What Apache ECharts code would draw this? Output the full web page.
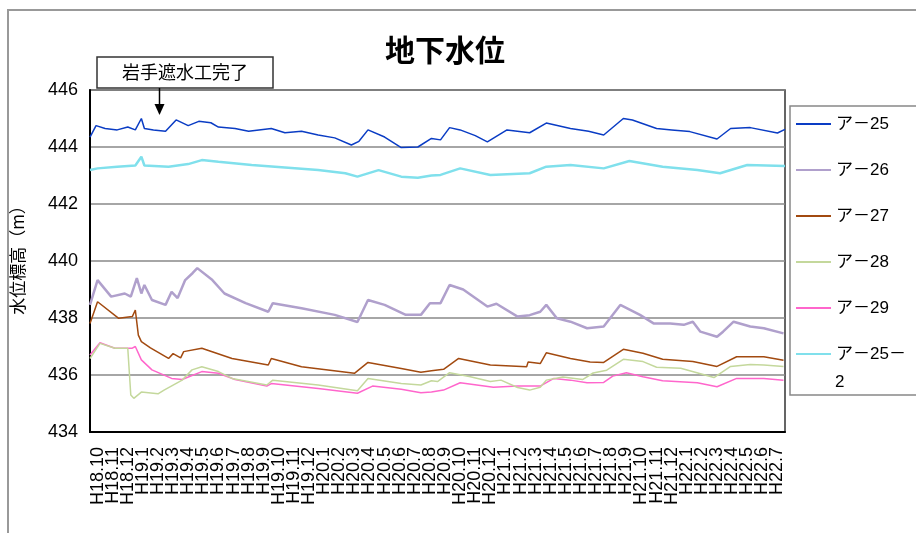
<!DOCTYPE html>
<html><head><meta charset="utf-8">
<script src="https://cdn.jsdelivr.net/npm/echarts@6/dist/echarts.min.js"></script>
<style>html,body{margin:0;padding:0;background:#fff}#c{width:916px;height:533px}</style>
</head><body><div id="c"></div>
<script>
const categories = ['H18.10','H18.11','H18.12',
 'H19.1','H19.2','H19.3','H19.4','H19.5','H19.6','H19.7','H19.8','H19.9','H19.10','H19.11','H19.12',
 'H20.1','H20.2','H20.3','H20.4','H20.5','H20.6','H20.7','H20.8','H20.9','H20.10','H20.11','H20.12',
 'H21.1','H21.2','H21.3','H21.4','H21.5','H21.6','H21.7','H21.8','H21.9','H21.10','H21.11','H21.12',
 'H22.1','H22.2','H22.3','H22.4','H22.5','H22.6','H22.7'];
const yTicks = {min: 434, max: 446, step: 2};
const seriesNames = ['ア－25','ア－26','ア－27','ア－28','ア－29','ア－25－2'];
// [month offset from H18.10, water level (m)]
const a25 = [[0,444.35],[0.4,444.75],[1.0,444.65],[1.8,444.6],[2.5,444.7],[3.0,444.6],[3.4,445.0],[3.6,444.65],[4.2,444.6],[5.0,444.55],[5.7,444.95],[6.5,444.75],[7.2,444.9],[8.0,444.85],[8.5,444.7],[9.6,444.65],[10.5,444.55],[12.0,444.65],[12.9,444.5],[14.0,444.55],[15.1,444.42],[16.2,444.32],[17.3,444.07],[17.8,444.2],[18.4,444.6],[19.5,444.35],[20.6,443.98],[21.7,444.0],[22.6,444.3],[23.2,444.25],[23.8,444.68],[24.5,444.6],[25.5,444.4],[26.3,444.18],[27.6,444.6],[29.1,444.5],[30.2,444.84],[31.8,444.65],[33.0,444.55],[34.0,444.42],[35.3,445.0],[35.9,444.95],[37.5,444.65],[38.5,444.6],[39.7,444.54],[41.5,444.28],[42.4,444.65],[43.7,444.68],[45.5,444.49],[46,444.62]];
const a26 = [[0,438.46],[0.5,439.33],[1.4,438.75],[2.3,438.86],[2.7,438.75],[3.1,439.4],[3.4,438.86],[3.6,439.16],[4.1,438.63],[5.0,438.46],[5.4,438.92],[5.8,438.7],[6.3,439.33],[6.8,439.58],[7.1,439.75],[8.1,439.33],[8.9,438.86],[10.3,438.52],[11.8,438.22],[12.1,438.52],[14,438.34],[16.2,438.11],[17.7,437.86],[18.4,438.63],[19.5,438.46],[20.9,438.11],[21.9,438.11],[22.5,438.52],[23.2,438.52],[23.8,439.16],[24.7,439.0],[26.3,438.4],[26.9,438.5],[28.3,438.05],[29.1,438.1],[29.8,438.22],[30.2,438.46],[30.9,437.99],[31.8,437.87],[32.9,437.64],[34,437.7],[35.1,438.46],[36.4,438.11],[37.3,437.81],[38.4,437.81],[39.3,437.76],[39.9,437.87],[40.4,437.52],[41.5,437.34],[41.9,437.52],[42.6,437.87],[43.7,437.7],[44.6,437.64],[45.9,437.46]];
const a27 = [[0,437.81],[0.5,438.57],[1.9,437.99],[2.8,438.05],[3.0,438.28],[3.2,437.4],[3.4,437.17],[4.0,436.95],[5.2,436.58],[5.5,436.75],[6.0,436.6],[6.2,436.82],[7.4,436.94],[9.4,436.58],[11.8,436.35],[12.0,436.58],[14,436.29],[17.5,436.06],[18.4,436.44],[20.6,436.23],[21.9,436.1],[22.6,436.15],[23.4,436.2],[24.4,436.58],[26.5,436.35],[28.9,436.29],[29.0,436.46],[29.8,436.4],[30.2,436.78],[31.8,436.58],[33.1,436.46],[34,436.44],[35.3,436.9],[36.6,436.76],[37.9,436.55],[39.9,436.47],[41.5,436.3],[42.8,436.64],[44.6,436.64],[45.9,436.52]];
const a28 = [[0,436.58],[0.66,437.11],[1.65,436.94],[2.5,436.94],[2.7,435.3],[2.9,435.18],[3.4,435.4],[4.5,435.34],[4.9,435.47],[6.1,435.82],[6.75,436.18],[7.4,436.29],[8.5,436.12],[9.4,435.88],[11.7,435.65],[12.1,435.82],[15.1,435.65],[17.7,435.45],[18.4,435.88],[20.6,435.7],[21.9,435.65],[22.6,435.8],[23.0,435.77],[23.8,436.08],[25.1,435.95],[26.5,435.77],[27.2,435.82],[28.3,435.56],[29.1,435.47],[29.8,435.57],[30.2,435.82],[31.3,435.93],[32.6,435.84],[33.3,436.07],[34.2,436.17],[35.3,436.55],[36.6,436.47],[37.5,436.27],[39.1,436.24],[41.3,435.91],[42.4,436.3],[43.7,436.37],[44.6,436.35],[45.9,436.3]];
const a29 = [[0,436.7],[0.66,437.13],[1.65,436.94],[2.8,436.94],[3.0,437.0],[3.4,436.53],[4.1,436.18],[5.4,435.88],[6.1,435.84],[7.4,436.12],[8.5,436.06],[9.6,435.84],[11.7,435.61],[12.0,435.7],[15.1,435.53],[17.7,435.36],[18.7,435.61],[20.6,435.5],[21.9,435.38],[22.6,435.4],[23.4,435.47],[24.5,435.73],[26.7,435.57],[28.3,435.61],[29.8,435.61],[30.7,435.88],[31.8,435.82],[32.9,435.73],[34,435.74],[34.6,435.96],[35.5,436.08],[36.6,435.94],[37.9,435.8],[40.2,435.73],[41.5,435.59],[42.8,435.88],[44.6,435.88],[45.9,435.82]];
const a25_2 = [[0,443.19],[0.5,443.25],[1.8,443.31],[3.0,443.35],[3.4,443.66],[3.6,443.35],[5.2,443.31],[6.5,443.4],[7.4,443.54],[8.5,443.48],[10.7,443.37],[12.9,443.28],[15.1,443.19],[16.9,443.08],[17.7,442.96],[19.1,443.19],[20.6,442.96],[21.7,442.92],[22.6,443.0],[23.2,443.02],[24.5,443.25],[26.5,443.02],[29.1,443.08],[30.2,443.31],[31.8,443.37],[34,443.25],[35.7,443.51],[37.9,443.31],[40.2,443.19],[41.7,443.08],[43.5,443.37],[46,443.33]];
const seriesData = [a25, a26, a27, a28, a29, a25_2];
const colors = ['#0a3cc4','#b0a0cc','#a24a10','#c4d89c','#ff66cc','#80e0ec'];
const widths = [1.5, 2.5, 1.5, 1.5, 1.5, 2.5];
const annotText = '岩手遮水工完了';
const annotMonth = 4.6;

const FONT = 'Liberation Sans, Noto Sans CJK JP, sans-serif';
const lastName = seriesNames[5];
const lastHead = lastName.slice(0, -1);
const lastTail = lastName.slice(-1);
const chart = echarts.init(document.getElementById('c'), null, {renderer: 'canvas'});
const option = {
  animation: false,
  backgroundColor: '#fff',
  title: {text: '地下水位', left: 440, top: 30, textAlign: 'center',
    textStyle: {fontSize: 30, fontWeight: 'bold', color: '#000', fontFamily: 'Noto Sans CJK JP'}},
  grid: {left: 90, top: 90, right: 131, bottom: 101, show: true, borderColor: '#333', borderWidth: 1.5},
  legend: {
    orient: 'vertical', left: 790, top: 105, padding: 5, itemWidth: 35, itemHeight: 14, itemGap: 18,
    data: seriesNames,
    itemStyle: {opacity: 0, borderWidth: 0},
    formatter: n => n === lastName ? lastHead : n,
    textStyle: {fontSize: 17, color: '#000', fontFamily: FONT, lineHeight: 28}
  },
  xAxis: [
    {type: 'category', data: categories, boundaryGap: true, gridIndex: 0,
     axisLine: {lineStyle: {color: '#000', width: 2}}, axisTick: {show: false},
     axisLabel: {rotate: 90, interval: 0, fontSize: 18, color: '#000', fontFamily: FONT, margin: 15}},
    {type: 'value', min: 0, max: 46, show: false, gridIndex: 0}
  ],
  yAxis: {type: 'value', min: yTicks.min, max: yTicks.max, interval: yTicks.step,
    axisLine: {show: true, lineStyle: {color: '#000', width: 2}}, axisTick: {show: false},
    axisLabel: {fontSize: 18, color: '#000', fontFamily: FONT, margin: 12},
    splitLine: {lineStyle: {color: '#888', width: 1.5}},
    name: '水位標高（m）', nameLocation: 'middle', nameGap: 64, nameRotate: 90,
    nameTextStyle: {fontSize: 17, color: '#000', fontFamily: 'Noto Sans CJK JP', padding: [0, 0, 0, 10]}},
  series: seriesNames.map((n, i) => ({
    name: n, type: 'line', xAxisIndex: 1, data: seriesData[i], symbol: 'none',
    lineStyle: {color: colors[i], width: widths[i]}, itemStyle: {color: colors[i]}
  })).reverse()
};
chart.setOption(option);
const ax = chart.convertToPixel({xAxisIndex: 1}, annotMonth);
const gridTop = 90;
chart.setOption({graphic: [
  {type: 'rect', shape: {x: 8, y: 10, width: 1000, height: 600}, style: {fill: 'none', stroke: '#999', lineWidth: 2}, z: -10, silent: true},
  {type: 'rect', shape: {x: 790, y: 106, width: 200, height: 289}, style: {fill: 'none', stroke: '#888', lineWidth: 1.5}, silent: true},
  {type: 'text', x: 835, y: 382, style: {text: lastTail, fontSize: 17, fill: '#000', fontFamily: FONT, align: 'left', verticalAlign: 'middle'}},
  {type: 'rect', shape: {x: 97, y: 57, width: 176, height: 31}, style: {fill: '#fff', stroke: '#333', lineWidth: 1.5}, z: 10},
  {type: 'text', x: 185, y: 72.5, style: {text: annotText, fontSize: 18, fill: '#000', fontFamily: 'Noto Sans CJK JP', align: 'center', verticalAlign: 'middle'}, z: 11},
  {type: 'line', shape: {x1: ax, y1: 88, x2: ax, y2: gridTop + 16}, style: {stroke: '#000', lineWidth: 1.5}, z: 10},
  {type: 'polygon', shape: {points: [[ax - 5, gridTop + 14], [ax + 5, gridTop + 14], [ax, gridTop + 25]]}, style: {fill: '#000'}, z: 10}
]});
</script></body></html>
